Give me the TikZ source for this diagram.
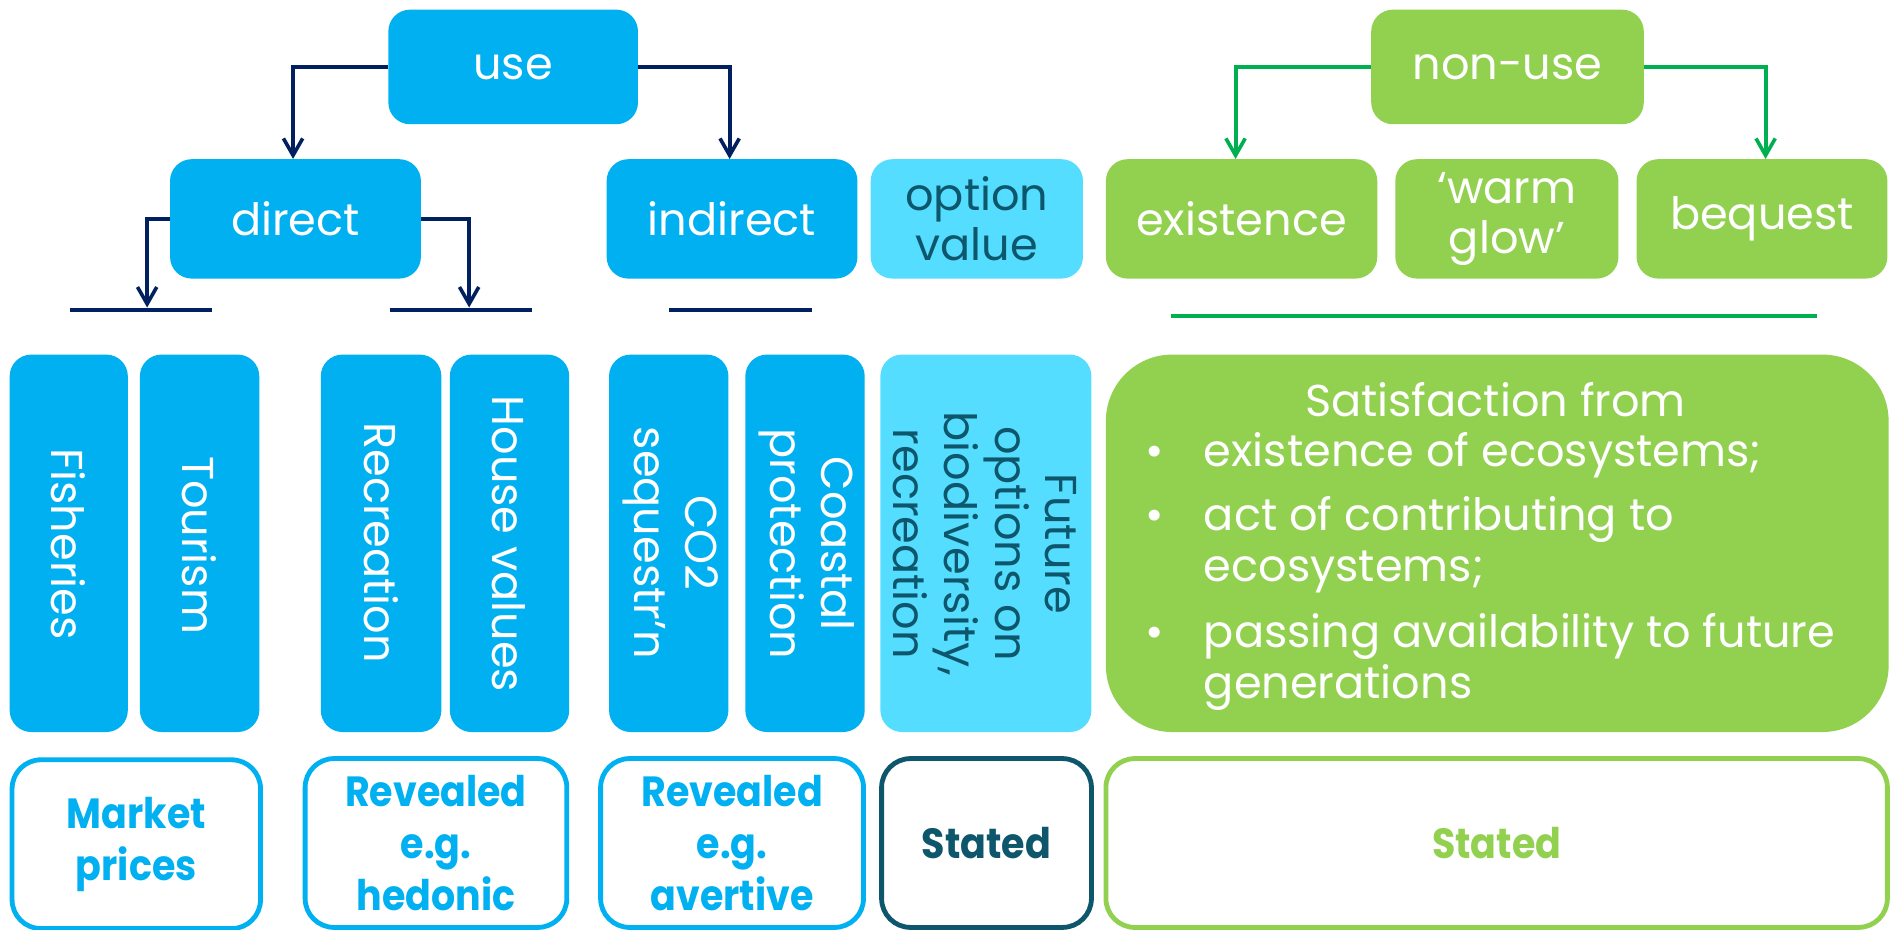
\documentclass[tikz,border=0pt]{standalone}
\usepackage{fontspec}
\setmainfont{Poppins}
\newfontfamily\botfont{Poppins}[FakeStretch=0.9]
\usetikzlibrary{arrows.meta}
\definecolor{ublue}{HTML}{00B0F0}
\definecolor{ugreen}{HTML}{92D050}
\definecolor{lcyan}{HTML}{55DDFF}
\definecolor{navyc}{HTML}{002060}
\definecolor{dgreen}{HTML}{00B050}
\definecolor{dteal}{HTML}{0D566B}
\tikzset{
  box/.style={rounded corners=18pt, inner sep=0pt, align=center, text=white,
    font=\fontsize{37}{42}\selectfont},
  tall/.style={rounded corners=18pt, inner sep=0pt, minimum height=313pt},
  vlabel/.style={rotate=-90, align=center, text=white, inner sep=0pt,
    font=\fontsize{37}{42}\selectfont},
  bot/.style={rounded corners=24pt, line width=4pt, fill=white, inner sep=0pt,
    minimum height=140pt, align=center, font=\botfont\bfseries\fontsize{35}{43}\selectfont},
  conn/.style={line width=3.3pt, -{Straight Barb[length=14pt,width=16pt,line width=3pt]}},
  bar/.style={line width=4pt},
  sat/.style={text=white, inner sep=0pt, anchor=base west, font=\fontsize{37}{42}\selectfont},
}
\begin{document}
\begin{tikzpicture}[x=1pt,y=-1pt]
\useasboundingbox (0,0) rectangle (1568,771);
% row 1
\node[box, fill=ublue, minimum width=207pt, minimum height=95pt] (use) at (425.5,55.5) {use};
\node[box, fill=ugreen, minimum width=226pt, minimum height=95pt] (nonuse) at (1250,55.5) {non-use};
% row 2
\node[box, fill=ublue, minimum width=208pt, minimum height=99pt] (direct) at (245,181.5) {direct};
\node[box, fill=ublue, minimum width=208pt, minimum height=99pt] (indirect) at (607,181.5) {indirect};
\node[box, fill=lcyan, text=dteal, minimum width=176pt, minimum height=99pt] (option) at (810,181.5) {option\\value};
\node[box, fill=ugreen, minimum width=225pt, minimum height=99pt] (existence) at (1029.5,181.5) {existence};
\node[box, fill=ugreen, minimum width=185pt, minimum height=99pt] (warm) at (1249.5,181.5) {‘warm\\glow’};
\node[box, fill=ugreen, minimum width=208pt, minimum height=99pt] (bequest) at (1461,181.5) {bequest};
% connectors
\coordinate (t1) at (122,255);
\coordinate (t2) at (389,255);
\draw[conn, navyc] (use.west) -| ([xshift=-2pt]direct.north);
\draw[conn, navyc] (use.east) -| ([xshift=-2pt]indirect.north);
\draw[conn, navyc] (direct.west) -| (t1);
\draw[conn, navyc] (direct.east) -| (t2);
\draw[conn, dgreen] (nonuse.west) -| ([xshift=-5pt]existence.north);
\draw[conn, dgreen] (nonuse.east) -| ([xshift=3pt]bequest.north);
% bars
\coordinate (b1a) at (58,257); \coordinate (b1b) at (176,257);
\coordinate (b2a) at (323,257); \coordinate (b2b) at (441,257);
\coordinate (b3a) at (555,257); \coordinate (b3b) at (673,257);
\coordinate (b4a) at (971,262); \coordinate (b4b) at (1507,262);
\draw[bar, navyc] (b1a) -- (b1b);
\draw[bar, navyc] (b2a) -- (b2b);
\draw[bar, navyc] (b3a) -- (b3b);
\draw[bar, dgreen] (b4a) -- (b4b);
% tall boxes
\node[tall, fill=ublue, minimum width=98pt] (fish) at (57,450.5) {};
\node[tall, fill=ublue, minimum width=99pt] (tour) at (165.5,450.5) {};
\node[tall, fill=ublue, minimum width=100pt] (recr) at (316,450.5) {};
\node[tall, fill=ublue, minimum width=99pt] (house) at (422.5,450.5) {};
\node[tall, fill=ublue, minimum width=99pt] (co2) at (554.5,450.5) {};
\node[tall, fill=ublue, minimum width=99pt] (coast) at (667.5,450.5) {};
\node[tall, fill=lcyan, minimum width=175pt] (future) at (817.5,450.5) {};
\node[tall, fill=ugreen, rounded corners=55pt, minimum width=649pt] (satis) at (1241.5,450.5) {};
\node[vlabel] (fishl) at (57,451) {Fisheries};
\node[vlabel] (tourl) at (165,452) {Tourism};
\node[vlabel] (recrl) at (316,450) {Recreation};
\node[vlabel] (housel) at (422,451) {House values};
\node[vlabel] (co2l) at (556,450) {CO2\\sequestr’n};
\node[vlabel] (coastl) at (669,451) {Coastal\\protection};
\node[vlabel, text=dteal] (futurel) at (817,451) {Future\\options on\\biodiversity,\\recreation};
% satisfaction text
\node[sat, anchor=base] (s0) at (1240,345) {Satisfaction from};
\node[sat] (d1) at (950,387) {•};
\node[sat] (s1) at (998,387) {existence of ecosystems;};
\node[sat] (d2) at (950,440) {•};
\node[sat] (s2) at (998,440) {act of contributing to};
\node[sat] (s3) at (998,482) {ecosystems;};
\node[sat] (d3) at (950,537) {•};
\node[sat] (s4) at (998,537) {passing availability to future};
\node[sat] (s5) at (998,579) {generations};
% bottom boxes
\node[bot, draw=ublue, text=ublue, minimum width=206pt] (market) at (113,700) {Market\\prices};
\node[bot, draw=ublue, text=ublue, minimum width=217pt] (hedonic) at (361.5,699) {Revealed\\e.g.\\hedonic};
\node[bot, draw=ublue, text=ublue, minimum width=218pt] (avertive) at (607,699) {Revealed\\e.g.\\avertive};
\node[bot, draw=dteal, text=dteal, minimum width=174pt] (stated1) at (818,699) {Stated};
\node[bot, draw=ugreen, text=ugreen, minimum width=648pt] (stated2) at (1241,699) {Stated};
\end{tikzpicture}
\end{document}
